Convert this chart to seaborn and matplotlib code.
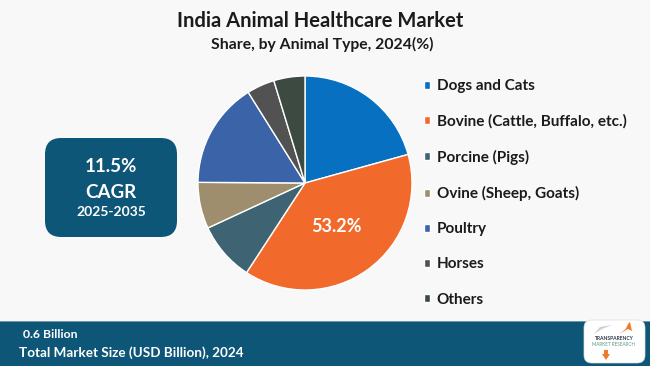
import numpy as np
import matplotlib
matplotlib.use("Agg")
import matplotlib.pyplot as plt
import seaborn as sns
from matplotlib.patches import FancyBboxPatch, Rectangle, Polygon

# data
animal_types = [
    "Dogs and Cats",
    "Bovine (Cattle, Buffalo, etc.)",
    "Porcine (Pigs)",
    "Ovine (Sheep, Goats)",
    "Poultry",
    "Horses",
    "Others",
]
shares = [20.7, 38.5, 8.9, 7.0, 16.0, 4.2, 4.7]
slice_colors = ["#0870C0", "#F26A2B", "#3E6474", "#9E8E6E", "#3A63A8", "#525252", "#3D4A41"]
highlight_label = "53.2%"
cagr_value = "11.5%"
cagr_period = "2025-2035"
market_size = "0.6 Billion"
market_caption = "Total Market Size (USD Billion), 2024"

BG = "#F8F8F8"
NAVY = "#0E5677"

sns.set_theme(style="white")
plt.rcParams["font.family"] = ["Lato", "DejaVu Sans"]

W, H = 650, 366
fig = plt.figure(figsize=(W / 100, H / 100), dpi=100, facecolor=BG)


def fx(px):
    return px / W


def fy(py):
    return 1 - py / H


# title
fig.text(fx(320), fy(21), "India Animal Healthcare Market", ha="center", va="center",
         fontsize=14.5, fontweight="bold", color="#1B1B1B")
fig.text(fx(322), fy(44), "Share, by Animal Type, 2024(%)", ha="center", va="center",
         fontsize=11.3, fontweight="bold", color="#1B1B1B")

# pie
cx, cy, r = 305, 183, 107
ax = fig.add_axes([fx(cx - r), fy(cy + r), 2 * r / W, 2 * r / H])
ax.set_facecolor(BG)
wedges, _ = ax.pie(shares, colors=slice_colors, startangle=90, counterclock=False,
                   wedgeprops=dict(edgecolor="white", linewidth=1.0))
ax.set_xlim(-1, 1)
ax.set_ylim(-1, 1)
ax.set_aspect("auto")
ax.axis("off")

w = wedges[1]
mid = np.deg2rad((w.theta1 + w.theta2) / 2)
ax.text(0.5 * np.cos(mid), 0.5 * np.sin(mid), highlight_label, ha="center", va="center",
        fontsize=13, fontweight="bold", color="white")

# legend
fig.legend(wedges, animal_types, loc="upper left", bbox_to_anchor=(fx(424), fy(79)),
           frameon=False, prop=dict(weight="bold", size=11),
           handlelength=0.42, handleheight=0.42, handletextpad=0.4,
           labelspacing=1.385, borderaxespad=0, borderpad=0, labelcolor="#1B1B1B")

# CAGR box
box = FancyBboxPatch((fx(45), fy(237)), 132 / W, 99 / H,
                     boxstyle="round,pad=0,rounding_size=0.025",
                     transform=fig.transFigure, facecolor=NAVY, edgecolor="none",
                     mutation_aspect=W / H)
fig.patches.append(box)
fig.text(fx(111), fy(167), cagr_value, ha="center", va="center",
         fontsize=13.5, fontweight="bold", color="white")
fig.text(fx(111), fy(192), "CAGR", ha="center", va="center",
         fontsize=13.5, fontweight="bold", color="white")
fig.text(fx(111), fy(212), cagr_period, ha="center", va="center",
         fontsize=10, fontweight="bold", color="white")

# bottom band
fig.patches.append(Rectangle((0, 0), 1, 45 / H, transform=fig.transFigure,
                             facecolor=NAVY, edgecolor="none"))
fig.patches.append(Rectangle((0, 44 / H), 1, 1.5 / H, transform=fig.transFigure,
                             facecolor="#6F95AA", edgecolor="none"))
fig.text(fx(23), fy(334), market_size, ha="left", va="center",
         fontsize=8.8, fontweight="bold", color="white")
fig.text(fx(19), fy(353), market_caption, ha="left", va="center",
         fontsize=9.7, fontweight="bold", color="white")

# logo
logo = FancyBboxPatch((fx(584), fy(363)), 61 / W, 43 / H,
                      boxstyle="round,pad=0,rounding_size=0.012",
                      transform=fig.transFigure, facecolor="white", edgecolor="#DDDDDD",
                      linewidth=0.5, mutation_aspect=W / H)
fig.patches.append(logo)
fig.text(fx(614), fy(339), "TRANSPARENCY", ha="center", va="center",
         fontsize=3.6, fontweight="bold", color="#2A3A4A")
fig.text(fx(614), fy(345), "MARKET RESEARCH", ha="center", va="center",
         fontsize=3.3, color="#5A9A8A")
fig.patches.append(Polygon([(fx(619), fy(334)), (fx(626), fy(329)), (fx(624), fy(333)),
                            (fx(628), fy(324)), (fx(630), fy(322)), (fx(632), fy(331)),
                            (fx(628), fy(329))],
                           closed=True, transform=fig.transFigure, facecolor="#F07A2A",
                           edgecolor="none"))
fig.patches.append(Polygon([(fx(604), fy(350)), (fx(608), fy(350)), (fx(608), fy(354)),
                            (fx(610), fy(354)), (fx(606), fy(360)), (fx(602), fy(354)),
                            (fx(604), fy(354))],
                           closed=True, transform=fig.transFigure, facecolor="#F07A2A",
                           edgecolor="none"))
fig.patches.append(Polygon([(fx(594), fy(334)), (fx(600), fy(327)), (fx(612), fy(325)),
                            (fx(602), fy(329))],
                           closed=True, transform=fig.transFigure, facecolor="#CFCFCF",
                           edgecolor="none"))

fig.savefig("out.png", dpi=100, facecolor=BG)
